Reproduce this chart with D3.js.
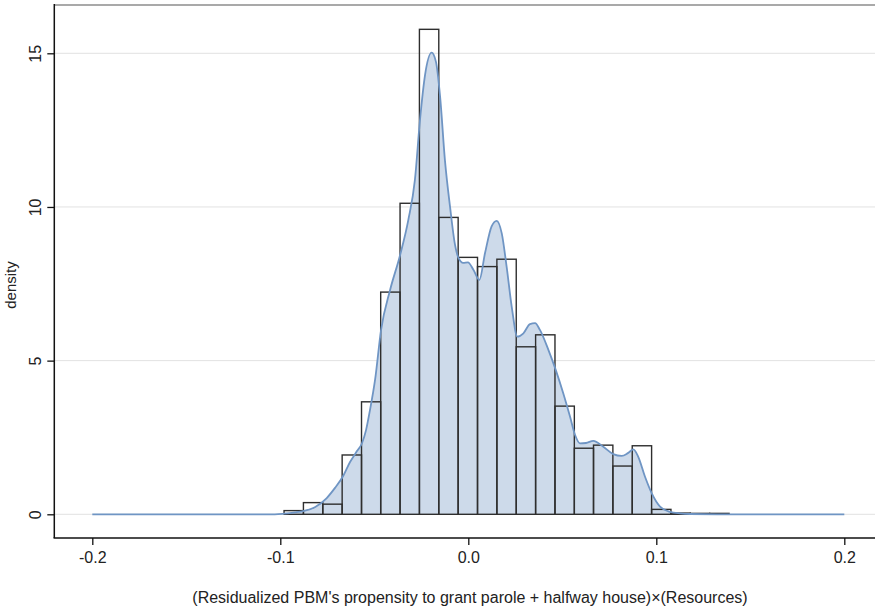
<!DOCTYPE html>
<html>
<head>
<meta charset="utf-8">
<script src="https://cdn.jsdelivr.net/npm/d3@7"></script>
<style>
  html, body { margin: 0; padding: 0; background: #ffffff; }
  svg { display: block; }
  text { font-family: "Liberation Sans", Arial, Helvetica, sans-serif; fill: #222; }
</style>
</head>
<body>
<div id="chart"></div>
<script>
// ---------------- data ----------------
const binEdges = [-0.0980, -0.0877, -0.0774, -0.0671, -0.0568, -0.0466, -0.0363, -0.0260,
  -0.0157, -0.0054, 0.0049, 0.0152, 0.0255, 0.0358, 0.0461, 0.0564, 0.0666, 0.0769,
  0.0872, 0.0975, 0.1078, 0.1181, 0.1284, 0.1387];
const binDensity = [0.12, 0.38, 0.33, 1.93, 3.66, 7.23, 10.12, 15.78, 9.66, 8.36, 8.06, 8.30,
  5.45, 5.84, 3.52, 2.15, 2.25, 1.57, 2.23, 0.16, 0.04, 0.03, 0.03];

const kdeX = [-0.2, -0.1029, -0.0980, -0.0922, -0.0874, -0.0814, -0.0753, -0.0709, -0.0668,
  -0.0629, -0.0594, -0.0565, -0.0544, -0.0523, -0.0496, -0.0464, -0.0416, -0.0363, -0.0319,
  -0.0284, -0.0257, -0.0230, -0.0195, -0.0172, -0.0150, -0.0124, -0.0097, -0.0071, -0.0053,
  -0.0027, -0.0002, 0.0027, 0.0059, 0.0089, 0.0124, 0.0151, 0.0178, 0.0204, 0.0231, 0.0261,
  0.0293, 0.0328, 0.0355, 0.0381, 0.0426, 0.0465, 0.0505, 0.0541, 0.0568, 0.0594, 0.0626,
  0.0665, 0.0718, 0.0771, 0.0816, 0.0849, 0.0878, 0.0904, 0.0940, 0.0976, 0.1020, 0.1073,
  0.1126, 0.1179, 0.1381, 0.2];
const kdeY = [0, 0, 0.02, 0.06, 0.11, 0.24, 0.53, 0.86, 1.22,
  1.70, 2.04, 2.32, 2.74, 3.39, 4.37, 6.0, 7.3, 8.43, 9.58,
  10.88, 12.83, 14.3, 15.02, 14.72, 13.59, 11.5, 10.0, 8.78, 8.35,
  8.18, 8.2, 7.96, 7.63, 8.5, 9.37, 9.55, 9.14, 8.05, 6.75, 5.78,
  5.89, 6.19, 6.22, 6.0, 5.35, 4.7, 3.94, 3.18, 2.58, 2.31, 2.32,
  2.39, 2.2, 1.96, 1.9, 1.99, 2.11, 1.87, 1.22, 0.68, 0.25, 0.08,
  0.03, 0.01, 0, 0];

const xTicks = [-0.2, -0.1, 0.0, 0.1, 0.2];
const xTickLabels = ["-0.2", "-0.1", "0.0", "0.1", "0.2"];
const yTicks = [0, 5, 10, 15];
const yTickLabels = ["0", "5", "10", "15"];
const xTitle = "(Residualized PBM's propensity to grant parole + halfway house)×(Resources)";
const yTitle = "density";

// ---------------- layout ----------------
const W = 875, H = 611;
const frame = { left: 54.3, top: 5, right: 875, bottom: 538 };

const svg = d3.select("#chart").append("svg").attr("width", W).attr("height", H);

const x = d3.scaleLinear().domain([-0.2, 0.2]).range([92.3, 844.3]);
const y = d3.scaleLinear().domain([0, 15]).range([514.3, 53.3]);

// grid lines
svg.append("g").selectAll("line").data(yTicks).join("line")
  .attr("x1", frame.left).attr("x2", frame.right)
  .attr("y1", d => y(d)).attr("y2", d => y(d))
  .attr("stroke", "#e2e2e2").attr("stroke-width", 1);

// density fill
const kde = kdeX.map((v, i) => [v, kdeY[i]]);
const area = d3.area().x(d => x(d[0])).y0(y(0)).y1(d => y(d[1])).curve(d3.curveMonotoneX);
const line = d3.line().x(d => x(d[0])).y(d => y(d[1])).curve(d3.curveMonotoneX);

svg.append("path").datum(kde).attr("d", area)
  .attr("fill", "#cddaea").attr("stroke", "none");

// histogram outlines
const bins = binDensity.map((v, i) => ({ x0: binEdges[i], x1: binEdges[i + 1], v }));
svg.append("g").selectAll("rect").data(bins).join("rect")
  .attr("x", d => x(d.x0)).attr("width", d => x(d.x1) - x(d.x0))
  .attr("y", d => y(d.v)).attr("height", d => y(0) - y(d.v))
  .attr("fill", "none").attr("stroke", "#2e2e2e").attr("stroke-width", 1.4);

// density line
svg.append("path").datum(kde).attr("d", line)
  .attr("fill", "none").attr("stroke", "#6f95c4").attr("stroke-width", 1.8);

// frame
svg.append("line").attr("x1", frame.left).attr("x2", frame.right)
  .attr("y1", frame.top).attr("y2", frame.top)
  .attr("stroke", "#a9a9a9").attr("stroke-width", 2);

// y axis
const yAxis = d3.axisLeft(y).tickValues(yTicks).tickSize(7).tickFormat((d, i) => yTickLabels[i]);
const gy = svg.append("g").attr("transform", `translate(${frame.left},0)`).call(yAxis);
gy.select(".domain").remove();
gy.append("line").attr("x1", 0).attr("x2", 0).attr("y1", frame.top - 1).attr("y2", frame.bottom)
  .attr("stroke", "#111").attr("stroke-width", 1.5);
gy.selectAll(".tick line").attr("stroke", "#111").attr("stroke-width", 1.3);
gy.selectAll(".tick text")
  .attr("x", null).attr("dy", null)
  .attr("text-anchor", "middle")
  .attr("transform", "translate(-13,0) rotate(-90)")
  .style("font-size", "16px")
  .style("font-family", "'Liberation Sans', Arial, sans-serif")
  .attr("fill", "#222");

// x axis
const xAxis = d3.axisBottom(x).tickValues(xTicks).tickSize(7).tickFormat((d, i) => xTickLabels[i]);
const gx = svg.append("g").attr("transform", `translate(0,${frame.bottom})`).call(xAxis);
gx.select(".domain").remove();
gx.append("line").attr("x1", frame.left - 0.75).attr("x2", frame.right).attr("y1", 0).attr("y2", 0)
  .attr("stroke", "#111").attr("stroke-width", 1.5);
gx.selectAll(".tick line").attr("stroke", "#111").attr("stroke-width", 1.3);
gx.selectAll(".tick text")
  .attr("y", 25).attr("dy", null)
  .style("font-size", "16px")
  .style("font-family", "'Liberation Sans', Arial, sans-serif")
  .attr("fill", "#222");

// titles
svg.append("text")
  .attr("transform", "translate(16,285) rotate(-90)")
  .attr("text-anchor", "middle")
  .style("font-size", "15px")
  .text(yTitle);

svg.append("text")
  .attr("x", 470).attr("y", 603)
  .attr("text-anchor", "middle")
  .style("font-size", "16px")
  .text(xTitle);
</script>
</body>
</html>
